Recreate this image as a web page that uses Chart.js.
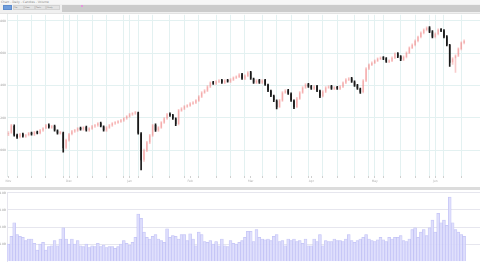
<!DOCTYPE html>
<html>
<head>
<meta charset="utf-8">
<script src="https://cdn.jsdelivr.net/npm/chart.js@4.4.0/dist/chart.umd.min.js"></script>
<style>
  body { margin: 0; width: 480px; height: 264px; overflow: hidden; background: #fff; position: relative; font-family: "DejaVu Sans", sans-serif; }
  .abs { position: absolute; }
  #titlebar { left: 0; top: 0; width: 480px; height: 4px; background: #f6f6f6; font-size: 3px; line-height: 4px; color: #888; white-space: nowrap; padding-left: 1px; }
  #toolbar { left: 0; top: 4px; width: 480px; height: 9px; background: #f0f0f0; border-bottom: 1px solid #e2e2e2; }
  .btn { position: absolute; top: 1px; height: 3px; background: #e2e2e2; border: 1px solid #d2d2d2; font-size: 2px; line-height: 3px; color: #777; }
  #grayband { left: 62px; top: 5px; width: 418px; height: 7px; background: #cbcbcb; }
  #sep { left: 0; top: 187px; width: 480px; height: 3px; background: #dcdcdc; }
  #price { left: 0; top: 12px; }
  #volume { left: 0; top: 190px; }
</style>
</head>
<body>
<div id="titlebar" class="abs">Chart - Daily - Candles - Volume</div>
<div id="toolbar" class="abs">
  <div class="btn" style="left:3px;width:7px;background:#6f9ddc;border-color:#5d8bcc"></div>
  <div class="btn" style="left:13px;width:9px">File</div>
  <div class="btn" style="left:24px;width:9px">View</div>
  <div class="btn" style="left:35px;width:9px">Tools</div>
  <div class="btn" style="left:46px;width:12px">Study</div>
</div>
<div id="grayband" class="abs"></div>
<div class="abs" style="left:81px;top:5px;width:2px;height:2px;background:#e596dc"></div>
<canvas id="price" class="abs" width="480" height="176"></canvas>
<div id="sep" class="abs"></div>
<canvas id="volume" class="abs" width="480" height="74"></canvas>

<script>
// daily candles
const opens = [
  4098,4108,4150,4094,4082,4100,4084,4094,4107,4096,
  4113,4104,4121,4136,4156,4139,4150,4121,4103,4108,
  4015,4060,4100,4115,4121,4137,4127,4143,4121,4133,
  4146,4152,4168,4146,4121,4139,4152,4164,4170,4176,
  4183,4195,4207,4220,4226,4232,4103,3940,3998,4047,
  4090,4156,4121,4139,4170,4195,4224,4217,4195,4162,
  4244,4256,4269,4275,4287,4293,4306,4330,4355,4367,
  4392,4420,4410,4423,4433,4416,4433,4423,4435,4447,
  4453,4470,4441,4459,4482,4441,4416,4433,4416,4433,
  4404,4367,4336,4306,4267,4306,4355,4371,4349,4306,
  4267,4318,4355,4386,4408,4396,4379,4396,4367,4334,
  4361,4386,4396,4379,4390,4379,4392,4416,4435,4445,
  4423,4402,4379,4359,4429,4503,4527,4539,4552,4564,
  4574,4568,4546,4552,4570,4599,4580,4558,4576,4601,
  4632,4650,4675,4699,4724,4743,4759,4734,4699,4718,
  4747,4740,4703,4650,4543,4568,4583,4626,4663
]
const closes = [
  4105,4154,4092,4080,4098,4086,4092,4105,4098,4111,
  4105,4123,4135,4154,4141,4148,4123,4105,4111,4012,
  4062,4098,4117,4123,4135,4129,4141,4123,4135,4148,
  4154,4166,4148,4123,4141,4154,4166,4172,4178,4185,
  4197,4209,4222,4228,4234,4105,3938,4000,4049,4092,
  4154,4123,4141,4172,4197,4222,4215,4197,4160,4246,
  4258,4271,4277,4289,4295,4308,4332,4357,4369,4394,
  4418,4412,4425,4431,4418,4431,4425,4437,4449,4455,
  4468,4443,4461,4480,4443,4418,4431,4418,4431,4406,
  4369,4338,4308,4265,4308,4357,4369,4351,4308,4265,
  4320,4357,4388,4406,4394,4381,4394,4369,4332,4363,
  4388,4394,4381,4388,4381,4394,4418,4437,4443,4425,
  4400,4381,4357,4431,4505,4529,4541,4554,4566,4572,
  4566,4548,4554,4572,4597,4578,4560,4578,4603,4634,
  4652,4677,4701,4726,4745,4757,4732,4701,4720,4745,
  4738,4701,4652,4541,4566,4585,4628,4665,4677
]
const highs = [
  4115,4160,4156,4100,4104,4106,4098,4110,4112,4116,
  4118,4128,4140,4160,4162,4154,4155,4126,4117,4112,
  4068,4104,4122,4128,4140,4142,4146,4148,4140,4153,
  4159,4171,4173,4151,4146,4159,4171,4177,4183,4190,
  4202,4214,4227,4233,4240,4236,4108,4006,4055,4098,
  4160,4162,4146,4177,4202,4227,4230,4222,4200,4252,
  4263,4276,4282,4294,4300,4313,4337,4362,4374,4399,
  4423,4426,4430,4436,4438,4436,4438,4442,4454,4460,
  4473,4475,4466,4486,4487,4446,4436,4438,4436,4438,
  4409,4372,4341,4311,4314,4362,4374,4376,4354,4311,
  4326,4362,4393,4411,4413,4401,4399,4401,4372,4368,
  4393,4399,4401,4393,4395,4399,4423,4442,4448,4450,
  4428,4407,4384,4436,4510,4534,4546,4559,4571,4577,
  4579,4573,4559,4577,4602,4604,4585,4583,4608,4639,
  4657,4682,4706,4731,4750,4763,4764,4739,4725,4750,
  4752,4745,4708,4655,4572,4590,4633,4670,4682
]
const lows = [
  4090,4104,4086,4072,4076,4080,4078,4088,4092,4090,
  4100,4100,4116,4132,4136,4134,4118,4098,4098,3988,
  4008,4055,4094,4110,4116,4124,4122,4118,4116,4128,
  4141,4147,4143,4118,4116,4134,4147,4159,4165,4171,
  4178,4190,4202,4215,4221,4098,3877,3930,3990,4040,
  4085,4116,4116,4134,4165,4190,4208,4190,4152,4156,
  4239,4251,4264,4270,4282,4288,4301,4325,4350,4362,
  4387,4406,4405,4418,4412,4411,4420,4418,4430,4442,
  4448,4437,4436,4454,4437,4412,4411,4412,4411,4400,
  4362,4331,4300,4255,4262,4301,4350,4345,4301,4256,
  4262,4313,4350,4381,4388,4375,4374,4362,4325,4329,
  4356,4381,4375,4374,4375,4374,4387,4411,4430,4419,
  4394,4375,4350,4354,4424,4498,4522,4534,4547,4559,
  4560,4542,4541,4547,4565,4572,4554,4553,4571,4596,
  4627,4645,4670,4694,4719,4738,4726,4694,4694,4713,
  4732,4694,4645,4517,4530,4480,4578,4620,4657
]
// volume in billions
const volumes = [
  1.0,1.45,2.25,1.55,1.45,1.4,1.2,1.3,1.3,1.05,
  0.65,1.0,1.1,0.65,0.85,0.9,1.2,0.9,1.3,1.95,
  1.3,1.0,1.3,1.0,1.2,0.9,0.85,1.0,0.8,0.9,
  0.85,1.05,0.85,0.95,0.8,0.85,0.85,0.75,0.85,1.0,
  1.2,1.05,0.95,1.1,1.4,2.75,2.5,1.7,1.4,1.3,
  1.45,1.55,1.3,1.2,1.1,1.9,1.4,1.5,1.45,1.3,
  1.55,1.55,1.2,1.6,1.3,0.9,1.7,1.55,1.15,1.1,
  1.2,1.0,1.15,0.9,1.3,0.9,0.85,1.2,1.05,1.0,
  1.1,1.2,1.4,1.75,1.75,1.15,1.85,1.4,1.3,1.25,
  1.3,1.2,1.45,1.55,1.15,1.2,0.9,1.3,1.2,1.3,
  1.15,1.2,1.05,1.3,0.9,0.9,1.3,1.15,1.55,0.9,
  1.2,1.15,1.15,1.3,1.2,1.2,1.15,1.3,1.55,1.2,
  1.1,1.2,1.3,1.4,1.55,1.3,1.2,1.15,1.25,1.4,
  1.25,1.15,1.4,1.3,1.4,1.4,1.5,1.2,1.15,1.3,
  1.85,1.95,1.4,1.7,1.85,1.5,1.95,2.4,1.7,2.8,
  2.25,2.4,2.1,3.75,2.25,1.85,1.7,1.55,1.45
]

const monthLabels = ['Nov', 'Dec', 'Jan', 'Feb', 'Mar', 'Apr', 'May', 'Jun']
const monthStarts = [0, 21, 42, 63, 84, 105, 127, 148]
const weekStarts = [3, 8, 13, 19, 24, 29, 34, 40, 45, 50, 56, 61, 66, 72, 77, 82, 88, 93, 98, 104,
  109, 114, 120, 125, 130, 136, 141, 146, 151, 157]
const monthLines = [21, 42, 127, 148]   // month starts that also get a grid line
const priceTicks = [4000, 4200, 4400, 4600, 4800]
const volumeTicks = [1, 2, 3, 4]

// 159 trading days plus a few empty slots on the right
const slots = Array.from({ length: 164 }, (_, i) => String(i))

const upColor = 'rgba(240,130,130,0.42)'
const downColor = '#1a1a1a'
const gridColor = '#e3f1f1'

const candleColors = closes.map((c, i) => c >= opens[i] ? upColor : downColor)
const tickSpots = [...new Set([...weekStarts, ...monthStarts])].sort((a, b) => a - b)

new Chart(document.getElementById('price'), {
  type: 'bar',
  data: {
    labels: slots,
    datasets: [
      {
        label: 'body',
        data: opens.map((o, i) => [o, closes[i]]),
        backgroundColor: candleColors,
        borderWidth: 0,
        barPercentage: 0.5,
        categoryPercentage: 1,
        grouped: false,
        order: 0
      },
      {
        label: 'wick',
        data: lows.map((l, i) => [l, highs[i]]),
        backgroundColor: candleColors,
        borderWidth: 0,
        barThickness: 1,
        grouped: false,
        order: 1
      }
    ]
  },
  options: {
    responsive: false,
    animation: false,
    devicePixelRatio: 1,
    layout: { padding: { top: 2, right: 0, left: 0, bottom: 0 } },
    plugins: { legend: { display: false }, tooltip: { enabled: false } },
    scales: {
      x: {
        offset: true,
        afterBuildTicks: s => { s.ticks = tickSpots.map(v => ({ value: v })) },
        afterFit: s => { s.height = 12 },
        grid: {
          offset: false,
          tickLength: 2,
          tickColor: '#d0d0d0',
          color: ctx => {
            const v = ctx.tick ? ctx.tick.value : -1
            return (weekStarts.includes(v) || monthLines.includes(v)) ? gridColor : 'rgba(0,0,0,0)'
          }
        },
        border: { display: false },
        ticks: {
          autoSkip: false,
          maxRotation: 0,
          padding: 1,
          color: '#b0b0b0',
          font: { size: 3, family: 'DejaVu Sans' },
          callback: v => {
            const k = monthStarts.indexOf(v)
            return k < 0 ? '' : monthLabels[k]
          }
        }
      },
      y: {
        min: 3840,
        max: 4837,
        afterBuildTicks: s => { s.ticks = priceTicks.map(v => ({ value: v })) },
        afterFit: s => { s.width = 7 },
        grid: { color: gridColor, drawTicks: false },
        border: { color: '#e6eeee' },
        ticks: { padding: 1, color: '#9a9a9a', font: { size: 3, family: 'DejaVu Sans' } }
      }
    }
  }
})

new Chart(document.getElementById('volume'), {
  type: 'bar',
  data: {
    labels: slots,
    datasets: [{
      label: 'volume',
      data: volumes,
      backgroundColor: 'rgba(218,218,252,0.85)',
      borderColor: 'rgba(184,184,244,0.9)',
      borderWidth: 0.5,
      barPercentage: 1,
      categoryPercentage: 1
    }]
  },
  options: {
    responsive: false,
    animation: false,
    devicePixelRatio: 1,
    layout: { padding: 0 },
    plugins: { legend: { display: false }, tooltip: { enabled: false } },
    scales: {
      x: { display: false, offset: true },
      y: {
        min: 0,
        max: 4,
        afterBuildTicks: s => { s.ticks = volumeTicks.map(v => ({ value: v })) },
        afterFit: s => { s.width = 7 },
        grid: { color: '#e6e6ee', drawTicks: false },
        border: { color: '#e6e6ee' },
        ticks: { padding: 1, color: '#9a9a9a', font: { size: 3, family: 'DejaVu Sans' }, callback: v => v.toFixed(1) + 'B' }
      }
    }
  }
})
</script>
</body>
</html>
